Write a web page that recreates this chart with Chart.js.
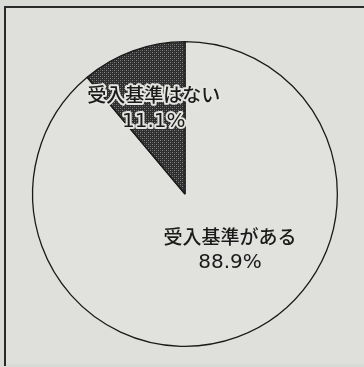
<!DOCTYPE html>
<html>
<head>
<meta charset="utf-8">
<script src="https://cdn.jsdelivr.net/npm/chart.js@4"></script>
<style>
  html, body { margin: 0; padding: 0; background: #d9dbd7; }
  #wrap { width: 364px; height: 367px; }
</style>
</head>
<body>
<div id="wrap"><canvas id="pie" width="364" height="367"></canvas></div>
<script>
const categories = ['受入基準がある', '受入基準はない']
const shares = [88.9, 11.1]

// dotted halftone like the print
function halftone() {
    const c = document.createElement('canvas')
    c.width = 4
    c.height = 4
    const g = c.getContext('2d')
    g.fillStyle = '#2e2e2e'
    g.fillRect(0, 0, 4, 4)
    g.fillStyle = '#858585'
    g.fillRect(0, 0, 1, 1)
    g.fillRect(2, 2, 1, 1)
    g.fillStyle = '#555555'
    g.fillRect(2, 0, 1, 1)
    g.fillRect(0, 2, 1, 1)
    return g.createPattern(c, 'repeat')
}

const framePlugin = {
    id: 'frame',
    beforeDraw(chart) {
        const ctx = chart.ctx
        ctx.save()
        ctx.fillStyle = '#dfe0dc'
        ctx.fillRect(6, 8, 364, 356)
        ctx.strokeStyle = '#2a2a2a'
        ctx.lineWidth = 2
        ctx.beginPath()
        ctx.moveTo(370, 7)
        ctx.lineTo(5, 7)
        ctx.lineTo(5, 366)
        ctx.stroke()
        ctx.restore()
    }
}

const sliceLabels = {
    id: 'sliceLabels',
    afterDatasetsDraw(chart, args, opts) {
        const ctx = chart.ctx
        const arcs = chart.getDatasetMeta(0).data
        arcs.forEach((arc, i) => {
            const p = opts.place[i]
            const mid = (arc.startAngle + arc.endAngle) / 2
            const ang = p.angle == null ? mid : (p.angle - 90) * Math.PI / 180
            const r = arc.outerRadius * p.dist
            const x = arc.x + Math.cos(ang) * r
            const y = arc.y + Math.sin(ang) * r
            const lines = [
                { text: categories[i], font: "500 19px 'Noto Sans CJK JP'", dy: -p.gap / 2 },
                { text: shares[i].toFixed(1) + '%', font: "20px 'DejaVu Sans'", dy: p.gap / 2 }
            ]
            ctx.save()
            ctx.textAlign = 'center'
            ctx.textBaseline = 'middle'
            lines.forEach(l => {
                ctx.font = l.font
                if (p.halo) {
                    ctx.lineJoin = 'round'
                    ctx.lineWidth = 4
                    ctx.strokeStyle = '#e4e5e1'
                    ctx.strokeText(l.text, x, y + l.dy)
                }
                ctx.fillStyle = '#1a1a1a'
                ctx.fillText(l.text, x, y + l.dy)
            })
            ctx.restore()
        })
    }
}

new Chart(document.getElementById('pie'), {
    type: 'pie',
    data: {
        labels: categories,
        datasets: [{
            data: shares,
            backgroundColor: ['#e1e2de', halftone()],
            borderColor: '#1a1a1a',
            borderWidth: 1.3
        }]
    },
    options: {
        responsive: false,
        animation: false,
        layout: { padding: { left: 32, right: 26, top: 41, bottom: 20 } },
        plugins: {
            legend: { display: false },
            tooltip: { enabled: false },
            sliceLabels: {
                place: [
                    { angle: 141, dist: 0.47, gap: 26, halo: false },
                    { angle: null, dist: 0.6, gap: 27, halo: true }
                ]
            }
        }
    },
    plugins: [framePlugin, sliceLabels]
})
</script>
</body>
</html>
